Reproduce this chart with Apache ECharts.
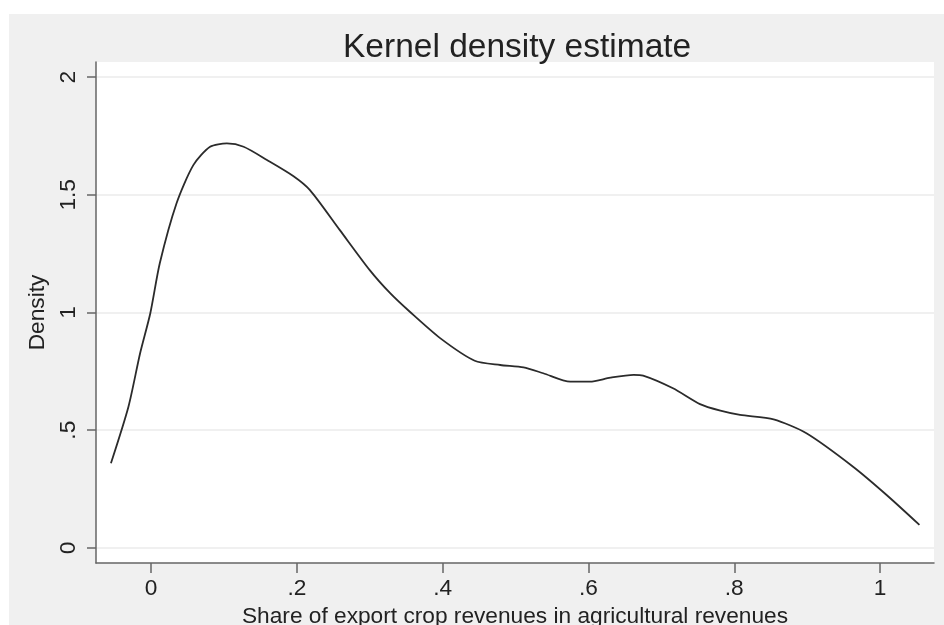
<!DOCTYPE html>
<html>
<head>
<meta charset="utf-8">
<script src="https://cdn.jsdelivr.net/npm/echarts@6/dist/echarts.min.js"></script>
<style>
  html, body { margin: 0; padding: 0; background: #fff; }
  #chart { width: 944px; height: 625px; }
</style>
</head>
<body>
<div id="chart"></div>
<script>
// density curve
const shareX = [-0.055, -0.031, -0.015, -0.001, 0.012, 0.035, 0.058, 0.081, 0.104, 0.127,
  0.159, 0.195, 0.218, 0.259, 0.300, 0.328, 0.355, 0.397, 0.444, 0.479,
  0.511, 0.538, 0.575, 0.602, 0.630, 0.662, 0.675, 0.716, 0.753, 0.781,
  0.808, 0.854, 0.899, 0.963, 1.009, 1.054]
const density = [0.36, 0.60, 0.827, 0.997, 1.209, 1.464, 1.626, 1.704, 1.718, 1.704,
  1.648, 1.58, 1.52, 1.35, 1.18, 1.082, 1.003, 0.89, 0.795, 0.777,
  0.767, 0.742, 0.706, 0.706, 0.723, 0.735, 0.732, 0.678, 0.611, 0.583,
  0.565, 0.546, 0.487, 0.345, 0.225, 0.098]

// tick labels (Stata style, no leading zero)
const xTicks = [0, 0.2, 0.4, 0.6, 0.8, 1]
const xTickLabels = ['0', '.2', '.4', '.6', '.8', '1']
const yTicks = [0, 0.5, 1, 1.5, 2]
const yTickLabels = ['0', '.5', '1', '1.5', '2']

const font = '"Liberation Sans", Arial, sans-serif'
const textColor = '#222'
const axisColor = '#666'

const chart = echarts.init(document.getElementById('chart'))

const fmt = (ticks, labels) => (v) => {
  const i = ticks.findIndex(t => Math.abs(t - v) < 1e-6)
  return i >= 0 ? labels[i] : ''
}

chart.setOption({
  animation: false,
  backgroundColor: '#fff',
  graphic: [{
    type: 'rect',
    z: -10,
    shape: { x: 9, y: 14, width: 935, height: 611 },
    style: { fill: '#f0f0f0' },
    silent: true
  }],
  title: {
    text: 'Kernel density estimate',
    left: 338,
    top: 26,
    textStyle: { fontFamily: font, fontSize: 33.5, fontWeight: 'normal', color: textColor }
  },
  grid: {
    left: 96,
    top: 62,
    right: 10,
    bottom: 62,
    containLabel: false,
    outerBoundsMode: 'none',
    show: true,
    backgroundColor: '#fff',
    borderWidth: 0
  },
  xAxis: {
    type: 'value',
    min: -0.0755,
    max: 1.074,
    name: 'Share of export crop revenues in agricultural revenues',
    nameLocation: 'middle',
    nameGap: 39,
    nameTextStyle: { fontFamily: font, fontSize: 22.7, color: textColor },
    axisLine: { show: true, onZero: false, lineStyle: { color: axisColor, width: 1.5 } },
    axisTick: { show: true, customValues: xTicks, length: 10, lineStyle: { color: axisColor, width: 1.5 } },
    axisLabel: {
      customValues: xTicks,
      margin: 14,
      formatter: fmt(xTicks, xTickLabels),
      fontFamily: font, fontSize: 22.7, color: textColor
    },
    splitLine: { show: false }
  },
  yAxis: {
    type: 'value',
    min: -0.064,
    max: 2.064,
    name: 'Density',
    nameLocation: 'middle',
    nameGap: 41,
    nameTextStyle: { fontFamily: font, fontSize: 22.7, color: textColor },
    axisLine: { show: true, onZero: false, lineStyle: { color: axisColor, width: 1.5 } },
    axisTick: { show: true, customValues: yTicks, length: 9, lineStyle: { color: axisColor, width: 1.5 } },
    axisLabel: {
      customValues: yTicks,
      rotate: 90,
      margin: 16,
      formatter: fmt(yTicks, yTickLabels),
      fontFamily: font, fontSize: 22.7, color: textColor
    },
    splitLine: { show: true, lineStyle: { color: '#ebebeb', width: 1.5 } }
  },
  series: [{
    type: 'line',
    data: shareX.map((x, i) => [x, density[i]]),
    showSymbol: false,
    smooth: 0.25,
    lineStyle: { color: '#2b2b2b', width: 1.8 }
  }]
})
</script>
</body>
</html>
